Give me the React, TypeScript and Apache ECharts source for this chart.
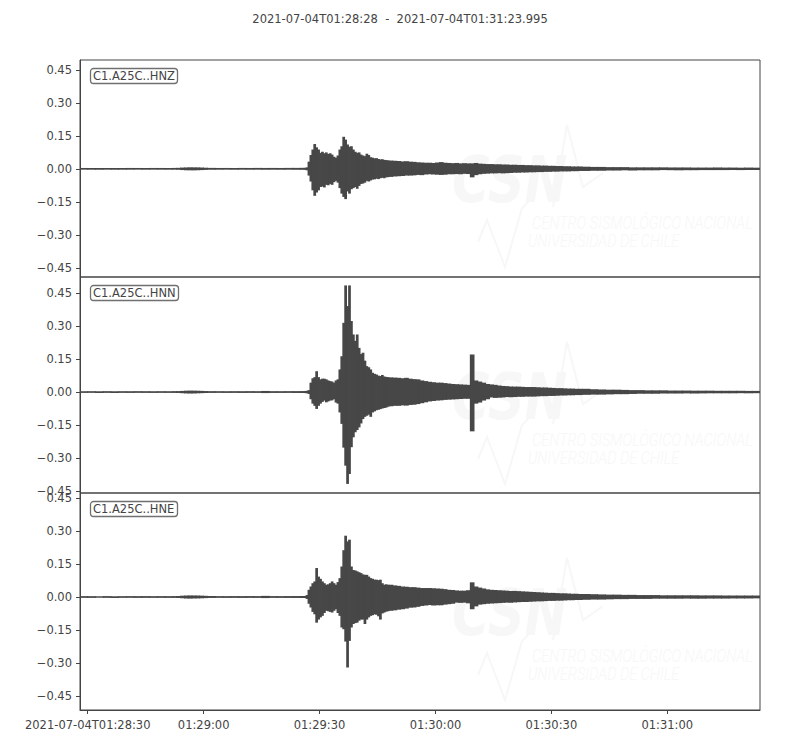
import React, { useEffect, useRef } from "react";
import * as echarts from "echarts";

// ---- labels ----
const TITLE_TEXT = "2021-07-04T01:28:28  -  2021-07-04T01:31:23.995";
const DATE_PREFIX = "2021-07-04T";
const CHANNELS = ["C1.A25C..HNZ", "C1.A25C..HNN", "C1.A25C..HNE"];

// ---- axes (x in seconds after 01:28:00) ----
const X_MIN = 28;
const X_MAX = 203.995;
const X_TICKS = [30, 60, 90, 120, 150, 180];
const Y_TICKS = [-0.45, -0.3, -0.15, 0, 0.15, 0.3, 0.45];
const Y_LIMITS = [
  [-0.492, 0.495],
  [-0.459, 0.523],
  [-0.514, 0.473],
];

// ---- sample window start times (seconds after trace start 01:28:28) ----
const T = [
  0, 2, 4, 6, 8, 10, 12, 14, 16, 18, 20, 22, 24,
  25, 26, 27, 28, 29, 30, 31, 32, 33,
  35, 37, 39, 41, 43, 45, 47, 49, 51, 53, 55, 57,
  58, 58.5, 59, 59.5, 60, 60.5, 61, 61.5, 62, 62.5, 63, 63.5, 64, 64.5, 65, 65.5, 66, 66.5, 67, 67.5,
  68, 68.5, 69, 69.5, 70, 70.5, 71, 71.5, 72, 72.5, 73, 73.5, 74, 74.5, 75, 75.5, 76, 76.5, 77, 77.5,
  78, 78.5, 79, 79.5, 80,
  81, 82, 83, 84, 85, 86, 87, 88, 89, 90,
  91, 92, 93, 94, 95, 96, 97, 98, 99, 100,
  101, 102, 103, 104, 105, 106, 107, 108, 109, 110,
  111, 112, 113, 114, 115, 116, 117, 118, 119, 120,
  121, 122, 123, 124, 125, 126, 127, 128, 129, 130,
  132, 134, 136, 138, 140, 142, 144, 146, 148, 150, 152, 154, 156, 158, 160, 162, 164, 166, 168, 170, 172, 174,
];
const T_END = 175.995;

// ---- HNZ envelope (max / min per sample window) ----
const HNZ_MAX = [
  0.0012, 0.001, 0.0013, 0.0011, 0.0012, 0.001, 0.0013, 0.0012, 0.0011, 0.0013, 0.0012, 0.001, 0.0014,
  0.0018, 0.003, 0.0036, 0.0042, 0.004, 0.0038, 0.0032, 0.0024, 0.0016,
  0.0012, 0.0013, 0.0011, 0.0014, 0.0012, 0.0015, 0.0013, 0.0014, 0.0012, 0.0015, 0.0016, 0.0018,
  0.002, 0.004, 0.03, 0.06, 0.085, 0.11, 0.095, 0.085, 0.07, 0.075,
  0.068, 0.072, 0.065, 0.068, 0.062, 0.052, 0.048, 0.058, 0.085, 0.1,
  0.143, 0.13, 0.108, 0.098, 0.1, 0.085, 0.075, 0.07, 0.072, 0.062,
  0.058, 0.055, 0.066, 0.06, 0.05, 0.048, 0.045, 0.046, 0.042, 0.04,
  0.041, 0.038, 0.037, 0.036, 0.035,
  0.034, 0.033, 0.031, 0.032, 0.03, 0.029, 0.027, 0.026, 0.025, 0.025,
  0.024, 0.026, 0.028, 0.025, 0.024, 0.023, 0.024, 0.022, 0.023, 0.022,
  0.022, 0.024, 0.021, 0.02, 0.019, 0.019, 0.018, 0.018, 0.017, 0.017,
  0.016, 0.016, 0.015, 0.015, 0.014, 0.014, 0.013, 0.013, 0.012, 0.012,
  0.011, 0.011, 0.01, 0.01, 0.009, 0.009, 0.008, 0.008, 0.008, 0.007,
  0.006, 0.006, 0.005, 0.005, 0.005, 0.004, 0.004, 0.004, 0.004, 0.004, 0.0035, 0.0035, 0.0035, 0.003, 0.003, 0.003, 0.0035, 0.003, 0.003, 0.0025, 0.003, 0.0025,
];
const HNZ_MIN = [
  -0.0011, -0.0013, -0.001, -0.0012, -0.0011, -0.0013, -0.0012, -0.001, -0.0013, -0.0011, -0.0012, -0.0013, -0.0012,
  -0.0016, -0.0028, -0.0038, -0.004, -0.0042, -0.0036, -0.003, -0.0022, -0.0015,
  -0.0013, -0.0011, -0.0014, -0.0012, -0.0013, -0.0012, -0.0015, -0.0013, -0.0014, -0.0013, -0.0016, -0.0017,
  -0.002, -0.004, -0.028, -0.055, -0.095, -0.12, -0.105, -0.095, -0.08, -0.078,
  -0.082, -0.07, -0.072, -0.066, -0.07, -0.058, -0.052, -0.06, -0.085, -0.11,
  -0.125, -0.135, -0.1, -0.11, -0.09, -0.085, -0.08, -0.088, -0.075, -0.066,
  -0.064, -0.06, -0.052, -0.055, -0.05, -0.046, -0.045, -0.042, -0.044, -0.04,
  -0.038, -0.04, -0.036, -0.035, -0.034,
  -0.032, -0.031, -0.03, -0.028, -0.028, -0.027, -0.025, -0.026, -0.023, -0.022,
  -0.023, -0.024, -0.025, -0.024, -0.022, -0.022, -0.021, -0.022, -0.02, -0.021,
  -0.036, -0.026, -0.022, -0.02, -0.019, -0.018, -0.018, -0.017, -0.018, -0.017,
  -0.016, -0.015, -0.015, -0.014, -0.014, -0.013, -0.013, -0.012, -0.012, -0.011,
  -0.011, -0.01, -0.01, -0.009, -0.009, -0.009, -0.008, -0.008, -0.007, -0.007,
  -0.006, -0.006, -0.005, -0.005, -0.004, -0.005, -0.004, -0.004, -0.004, -0.003, -0.0035, -0.004, -0.0035, -0.0035, -0.003, -0.003, -0.003, -0.003, -0.0025, -0.003, -0.0025, -0.0025,
];

// ---- HNN envelope ----
const HNN_MAX = [
  0.001, 0.0012, 0.0011, 0.0013, 0.001, 0.0012, 0.0011, 0.0013, 0.0012, 0.001, 0.0012, 0.0011, 0.0014,
  0.0016, 0.0024, 0.0034, 0.0038, 0.0036, 0.0032, 0.0026, 0.0018, 0.0014,
  0.0012, 0.0011, 0.0013, 0.0012, 0.0014, 0.0012, 0.0022, 0.0013, 0.0012, 0.0014, 0.0015, 0.0017,
  0.002, 0.003, 0.006, 0.04, 0.06, 0.065, 0.092, 0.065, 0.055, 0.058,
  0.058, 0.055, 0.05, 0.047, 0.045, 0.04, 0.05, 0.055, 0.1, 0.16,
  0.312, 0.482, 0.388, 0.482, 0.32, 0.259, 0.23, 0.259, 0.198, 0.17,
  0.176, 0.14, 0.115, 0.11, 0.1, 0.085, 0.08, 0.077, 0.072, 0.07,
  0.075, 0.068, 0.066, 0.065, 0.064,
  0.063, 0.062, 0.06, 0.062, 0.058, 0.056, 0.055, 0.05, 0.047, 0.044,
  0.042, 0.04, 0.04, 0.038, 0.036, 0.034, 0.033, 0.032, 0.031, 0.03,
  0.168, 0.05, 0.045, 0.04, 0.034, 0.032, 0.03, 0.027, 0.025, 0.024,
  0.023, 0.022, 0.022, 0.021, 0.02, 0.02, 0.02, 0.019, 0.018, 0.018,
  0.017, 0.016, 0.015, 0.015, 0.014, 0.013, 0.013, 0.012, 0.012, 0.012,
  0.01, 0.009, 0.008, 0.008, 0.007, 0.006, 0.006, 0.005, 0.005, 0.005, 0.004, 0.004, 0.004, 0.0035, 0.0035, 0.0035, 0.003, 0.003, 0.003, 0.003, 0.0025, 0.0025,
];
const HNN_MIN = [
  -0.0012, -0.001, -0.0013, -0.0011, -0.0012, -0.0011, -0.0013, -0.001, -0.0012, -0.0013, -0.0011, -0.0012, -0.0013,
  -0.0015, -0.0026, -0.0036, -0.004, -0.0038, -0.003, -0.0024, -0.0017, -0.0013,
  -0.0011, -0.0013, -0.0012, -0.0014, -0.0012, -0.0013, -0.002, -0.0014, -0.0013, -0.0012, -0.0015, -0.0016,
  -0.002, -0.003, -0.006, -0.03, -0.05, -0.06, -0.074, -0.06, -0.05, -0.042,
  -0.036, -0.044, -0.04, -0.036, -0.035, -0.03, -0.045, -0.05, -0.09, -0.142,
  -0.25, -0.332, -0.415, -0.37, -0.248, -0.203, -0.18, -0.17, -0.158, -0.14,
  -0.12, -0.11, -0.105, -0.1, -0.11, -0.09, -0.085, -0.08, -0.078, -0.075,
  -0.072, -0.07, -0.068, -0.064, -0.062,
  -0.06, -0.06, -0.058, -0.059, -0.056, -0.055, -0.052, -0.048, -0.044, -0.04,
  -0.038, -0.036, -0.035, -0.033, -0.032, -0.031, -0.03, -0.029, -0.028, -0.028,
  -0.176, -0.05, -0.045, -0.036, -0.03, -0.022, -0.024, -0.023, -0.022, -0.02,
  -0.021, -0.02, -0.019, -0.019, -0.018, -0.018, -0.018, -0.017, -0.016, -0.016,
  -0.015, -0.015, -0.014, -0.013, -0.013, -0.012, -0.012, -0.011, -0.011, -0.01,
  -0.009, -0.009, -0.008, -0.007, -0.007, -0.006, -0.005, -0.005, -0.005, -0.004, -0.004, -0.004, -0.0035, -0.004, -0.0035, -0.003, -0.003, -0.003, -0.003, -0.0025, -0.003, -0.0025,
];

// ---- HNE envelope ----
const HNE_MAX = [
  0.0013, 0.0011, 0.0012, 0.0014, 0.0012, 0.0011, 0.0013, 0.0012, 0.0014, 0.0011, 0.0013, 0.0012, 0.0014,
  0.0018, 0.0032, 0.004, 0.0044, 0.0042, 0.004, 0.0034, 0.0026, 0.0017,
  0.0013, 0.0012, 0.0014, 0.0013, 0.0015, 0.0013, 0.0024, 0.0014, 0.0013, 0.0015, 0.0016, 0.0018,
  0.002, 0.006, 0.03, 0.045, 0.06, 0.068, 0.129, 0.09, 0.08, 0.068,
  0.06, 0.053, 0.055, 0.06, 0.068, 0.06, 0.053, 0.065, 0.083, 0.136,
  0.21, 0.276, 0.25, 0.258, 0.136, 0.12, 0.118, 0.114, 0.11, 0.106,
  0.1, 0.098, 0.098, 0.09, 0.083, 0.08, 0.076, 0.076, 0.074, 0.076,
  0.06, 0.053, 0.055, 0.053, 0.053,
  0.05, 0.048, 0.045, 0.044, 0.042, 0.042, 0.04, 0.038, 0.038, 0.038,
  0.037, 0.036, 0.035, 0.033, 0.03, 0.029, 0.027, 0.026, 0.026, 0.028,
  0.064, 0.045, 0.04, 0.036, 0.032, 0.03, 0.029, 0.028, 0.027, 0.026,
  0.025, 0.025, 0.024, 0.023, 0.022, 0.021, 0.02, 0.019, 0.018, 0.017,
  0.016, 0.016, 0.015, 0.014, 0.014, 0.013, 0.012, 0.012, 0.011, 0.011,
  0.01, 0.009, 0.008, 0.008, 0.007, 0.007, 0.006, 0.006, 0.006, 0.005, 0.005, 0.005, 0.005, 0.005, 0.0045, 0.0045, 0.0045, 0.004, 0.004, 0.004, 0.004, 0.004,
];
const HNE_MIN = [
  -0.0012, -0.0014, -0.0011, -0.0012, -0.0013, -0.0012, -0.0011, -0.0014, -0.0012, -0.0013, -0.0012, -0.0014, -0.0013,
  -0.0017, -0.003, -0.0042, -0.0046, -0.004, -0.0038, -0.0032, -0.0024, -0.0016,
  -0.0012, -0.0014, -0.0013, -0.0015, -0.0013, -0.0014, -0.0022, -0.0013, -0.0014, -0.0015, -0.0016, -0.0018,
  -0.002, -0.006, -0.028, -0.045, -0.065, -0.076, -0.114, -0.1, -0.09, -0.083,
  -0.07, -0.06, -0.062, -0.065, -0.068, -0.06, -0.053, -0.07, -0.083, -0.136,
  -0.144, -0.2, -0.318, -0.197, -0.136, -0.12, -0.116, -0.114, -0.105, -0.1,
  -0.1, -0.12, -0.1, -0.09, -0.083, -0.08, -0.076, -0.078, -0.085, -0.1,
  -0.072, -0.068, -0.064, -0.062, -0.06,
  -0.058, -0.055, -0.053, -0.05, -0.046, -0.045, -0.042, -0.038, -0.036, -0.034,
  -0.036, -0.035, -0.035, -0.032, -0.03, -0.028, -0.023, -0.024, -0.023, -0.026,
  -0.053, -0.04, -0.032, -0.03, -0.028, -0.027, -0.026, -0.025, -0.024, -0.023,
  -0.023, -0.022, -0.021, -0.02, -0.02, -0.019, -0.018, -0.017, -0.017, -0.016,
  -0.015, -0.015, -0.014, -0.014, -0.013, -0.012, -0.012, -0.011, -0.011, -0.01,
  -0.009, -0.009, -0.008, -0.007, -0.007, -0.006, -0.006, -0.006, -0.005, -0.005, -0.005, -0.005, -0.0045, -0.005, -0.005, -0.0045, -0.0045, -0.0045, -0.004, -0.004, -0.004, -0.0035,
];

const TRACES = [
  [HNZ_MAX, HNZ_MIN],
  [HNN_MAX, HNN_MIN],
  [HNE_MAX, HNE_MIN],
];

const TEXT_COLOR = "#444444";
const TRACE_COLOR = "#474747";
const FONT = "DejaVu Sans";
const GRID_TOPS = [60, 277, 493];
const GRID_HEIGHTS = [217, 216, 217];

function pad(n: number) {
  return n < 10 ? "0" + n : "" + n;
}

function xLabel(v: number) {
  const total = 28 * 60 + Math.round(v);
  const mm = Math.floor(total / 60);
  const ss = total % 60;
  const s = "01:" + pad(mm) + ":" + pad(ss);
  return v === X_TICKS[0] ? DATE_PREFIX + s : s;
}

function yLabel(v: number) {
  return v.toFixed(2).replace("-", "\u2212");
}

// one window per row: [start, end, max, min]
function windows(maxs: number[], mins: number[]) {
  const out: number[][] = [];
  const n = Math.min(T.length, maxs.length, mins.length);
  for (let i = 0; i < n; i++) {
    const end = i < T.length - 1 ? T[i + 1] : T_END;
    out.push([X_MIN + T[i], X_MIN + end, maxs[i], mins[i]]);
  }
  return out;
}

function renderWindow(params: any, api: any) {
  const p1 = api.coord([api.value(0), api.value(2)]);
  const p2 = api.coord([api.value(1), api.value(3)]);
  const cs = params.coordSys;
  const shape = echarts.graphic.clipRectByRect(
    {
      x: p1[0] - 0.4,
      y: p1[1] - 0.6,
      width: p2[0] - p1[0] + 0.8,
      height: p2[1] - p1[1] + 1.2,
    },
    { x: cs.x, y: cs.y, width: cs.width, height: cs.height }
  );
  if (!shape) return null;
  return {
    type: "rect",
    shape,
    style: { fill: TRACE_COLOR },
  };
}

function watermark(top: number) {
  const dy = top - 60;
  const c = "#f7f7f7";
  return [
    {
      type: "polyline",
      z: -1,
      silent: true,
      shape: { points: [[553, 207 + dy], [567, 125 + dy], [583, 187 + dy], [603, 173 + dy]] },
      style: { stroke: c, lineWidth: 2, fill: "none" },
    },
    {
      type: "polyline",
      z: -1,
      silent: true,
      shape: { points: [[478, 242 + dy], [487, 220 + dy], [505, 267 + dy], [522, 208 + dy], [530, 200 + dy]] },
      style: { stroke: c, lineWidth: 2, fill: "none" },
    },
    {
      type: "text",
      z: -1,
      silent: true,
      x: 452,
      y: 148 + dy,
      scaleX: 0.8,
      style: {
        text: "CSN",
        fill: c,
        fontSize: 64,
        fontWeight: "bold",
        fontStyle: "italic",
        fontFamily: FONT,
      },
    },
    {
      type: "text",
      z: -1,
      silent: true,
      x: 532,
      y: 213 + dy,
      scaleX: 0.77,
      style: {
        text: "CENTRO SISMOLÓGICO NACIONAL",
        fill: c,
        fontSize: 19,
        fontStyle: "italic",
        fontWeight: 300,
        fontFamily: "Roboto",
      },
    },
    {
      type: "text",
      z: -1,
      silent: true,
      x: 528,
      y: 231 + dy,
      scaleX: 0.77,
      style: {
        text: "UNIVERSIDAD DE CHILE",
        fill: c,
        fontSize: 19,
        fontStyle: "italic",
        fontWeight: 300,
        fontFamily: "Roboto",
      },
    },
  ];
}

export default function App() {
  const ref = useRef<HTMLDivElement>(null);

  useEffect(() => {
    if (!ref.current) return;
    const chart = echarts.init(ref.current, null, { renderer: "svg" });

    const grid = GRID_TOPS.map((top, i) => ({
      left: 80,
      right: 40,
      top,
      height: GRID_HEIGHTS[i],
      show: true,
      borderColor: TEXT_COLOR,
      borderWidth: 1,
      backgroundColor: "transparent",
    }));

    const xAxis = GRID_TOPS.map((_, i) => {
      const last = i === GRID_TOPS.length - 1;
      return {
        type: "value",
        gridIndex: i,
        position: "bottom",
        min: X_MIN,
        max: X_MAX,
        show: last,
        splitLine: { show: false },
        axisLine: { show: true, onZero: false, lineStyle: { color: TEXT_COLOR, width: 1 } },
        axisTick: {
          show: true,
          customValues: X_TICKS,
          length: 4,
          lineStyle: { color: TEXT_COLOR, width: 1 },
        },
        axisLabel: {
          show: true,
          customValues: X_TICKS,
          formatter: xLabel,
          margin: 9,
          color: TEXT_COLOR,
          fontSize: 11.5,
          fontFamily: FONT,
        },
      };
    });

    const yAxis = GRID_TOPS.map((_, i) => ({
      type: "value",
      gridIndex: i,
      position: "left",
      min: Y_LIMITS[i][0],
      max: Y_LIMITS[i][1],
      splitLine: { show: false },
      axisLine: { show: true, onZero: false, lineStyle: { color: TEXT_COLOR, width: 1 } },
      axisTick: {
        show: true,
        customValues: Y_TICKS,
        length: 4,
        lineStyle: { color: TEXT_COLOR, width: 1 },
      },
      axisLabel: {
        show: true,
        customValues: Y_TICKS,
        formatter: yLabel,
        margin: 8,
        color: TEXT_COLOR,
        fontSize: 11.5,
        fontFamily: FONT,
      },
    }));

    const series = TRACES.map(([mx, mn], i) => ({
      type: "custom",
      name: CHANNELS[i],
      xAxisIndex: i,
      yAxisIndex: i,
      data: windows(mx, mn),
      encode: { x: [0, 1], y: [2, 3] },
      renderItem: renderWindow,
      silent: true,
      z: 2,
    }));

    const titles: any[] = [
      {
        text: TITLE_TEXT,
        left: "center",
        top: 13,
        padding: 0,
        textStyle: { fontSize: 11.5, fontWeight: "normal", color: TEXT_COLOR, fontFamily: FONT },
      },
    ];
    CHANNELS.forEach((name, i) => {
      titles.push({
        text: name,
        left: 90,
        top: GRID_TOPS[i] + 8,
        padding: [2, 3, 2, 3],
        borderColor: "#707070",
        borderWidth: 1.3,
        borderRadius: 3,
        backgroundColor: "#ffffff",
        textStyle: { fontSize: 11.5, fontWeight: "normal", color: TEXT_COLOR, fontFamily: FONT },
      });
    });

    const graphic = GRID_TOPS.flatMap((top) => watermark(top));

    chart.setOption({
      animation: false,
      backgroundColor: "#ffffff",
      textStyle: { fontFamily: FONT },
      title: titles,
      grid,
      xAxis,
      yAxis,
      series,
      graphic,
    } as any);

    return () => chart.dispose();
  }, []);

  return (
    <div
      ref={ref}
      style={{ position: "fixed", left: 0, top: 0, width: 800, height: 750 }}
    />
  );
}
